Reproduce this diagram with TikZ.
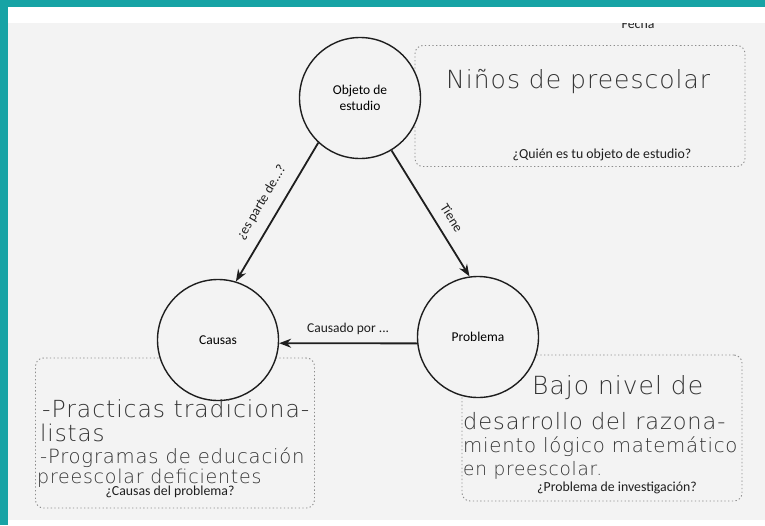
\documentclass[tikz,border=0pt]{standalone}
\usepackage{fontspec}
\usepackage{tikz}
\setmainfont{Carlito}
\newfontfamily\handfont[LetterSpace=4]{DejaVuSans-ExtraLight.ttf}
\usetikzlibrary{
  arrows.meta,
  positioning
}
\definecolor{csTeal}{HTML}{17A3A5}
\definecolor{csPaper}{HTML}{F3F3F3}
\definecolor{csInk}{HTML}{1E1E1E}
\definecolor{csPen}{HTML}{333333}
\definecolor{csDots}{HTML}{8C8C8C}
\tikzset{
  concept/.style={
    draw=csInk, circle, fill=csPaper, line width=1.4pt, minimum size=121pt,
    font=\fontsize{13.5}{16}\selectfont, align=center, inner sep=0pt
  },
  answerbox/.style={draw=csDots, line width=0.9pt, dash pattern=on 1.3pt off 2.4pt, rounded corners=8pt, inner sep=0pt},
  link/.style={-{Stealth[length=12pt, width=9pt]}, line width=1.8pt, csInk},
  linklabel/.style={font=\fontsize{13.5}{15}\selectfont, text=csInk},
  question/.style={font=\fontsize{13.8}{16}\selectfont, text=csInk},
  hand/.style={font=\handfont\fontsize{#1}{#1}\selectfont, text=csPen, anchor=base west, inner sep=0pt}
}
\begin{document}
\begin{tikzpicture}[x=1pt, y=-1pt]
  \useasboundingbox (0,0) rectangle (765,525);
  % frame and scanned page
  \fill[white] (0,0) rectangle (765,525);
  \fill[csPaper] (8,23) rectangle (765,520);
  \fill[csTeal] (0,0) rectangle (765,7);
  \fill[csTeal] (0,0) rectangle (8,525);
  \begin{scope}
    \clip (8,23) rectangle (765,520);
    \node[question, anchor=base] (fecha) at (638,28) {Fecha};
  \end{scope}

  % answer boxes
  \node[answerbox, minimum width=330pt, minimum height=121pt] (quienbox) at (580,106) {};
  \node[answerbox, minimum width=279pt, minimum height=150pt] (causasbox) at (175,433) {};
  \node[answerbox, minimum width=280pt, minimum height=146pt] (problemabox) at (602,428) {};

  % concepts
  \node[concept] (objeto) at (360,98) {Objeto de\\estudio};
  \node[concept] (causas) at (218,340) {Causas};
  \node[concept] (problema) at (478,337) {Problema};

  % relations
  \draw[link] (objeto.227) -- node[linklabel, pos=0.5, above=8pt, sloped] {¿es parte de...?} (causas.73);
  \draw[link] (objeto.301) -- node[linklabel, pos=0.6, above=7pt, sloped] {Tiene} (problema.98);
  \draw[link] (problema.186) -- node[linklabel, midway, above=4pt] {Causado por ...} (causas.-3);

  % questions
  \node[question] (quien) at (602,155) {¿Quién es tu objeto de estudio?};
  \node[question] (causasq) at (170,492) {¿Causas del problema?};
  \node[question] (problemaq) at (617,488) {¿Problema de investigación?};

  % handwritten answers
  \node[hand=25] (ninos) at (446,88) {Niños de preescolar};
  \node[hand=23.5] (practicas) at (42,417) {-Practicas tradiciona-};
  \node[hand=23] (listas) at (40,441) {listas};
  \node[hand=19.6] (programas) at (40,463) {-Programas de educación};
  \node[hand=19] (deficientes) at (37,483) {preescolar deficientes};
  \node[hand=25] (bajo) at (532,394) {Bajo nivel de};
  \node[hand=22.5] (desarrollo) at (463,429) {desarrollo del razona-};
  \node[hand=19.7] (miento) at (463,452) {miento lógico matemático};
  \node[hand=18.5] (enpre) at (463,475) {en preescolar.};
\end{tikzpicture}
\end{document}
